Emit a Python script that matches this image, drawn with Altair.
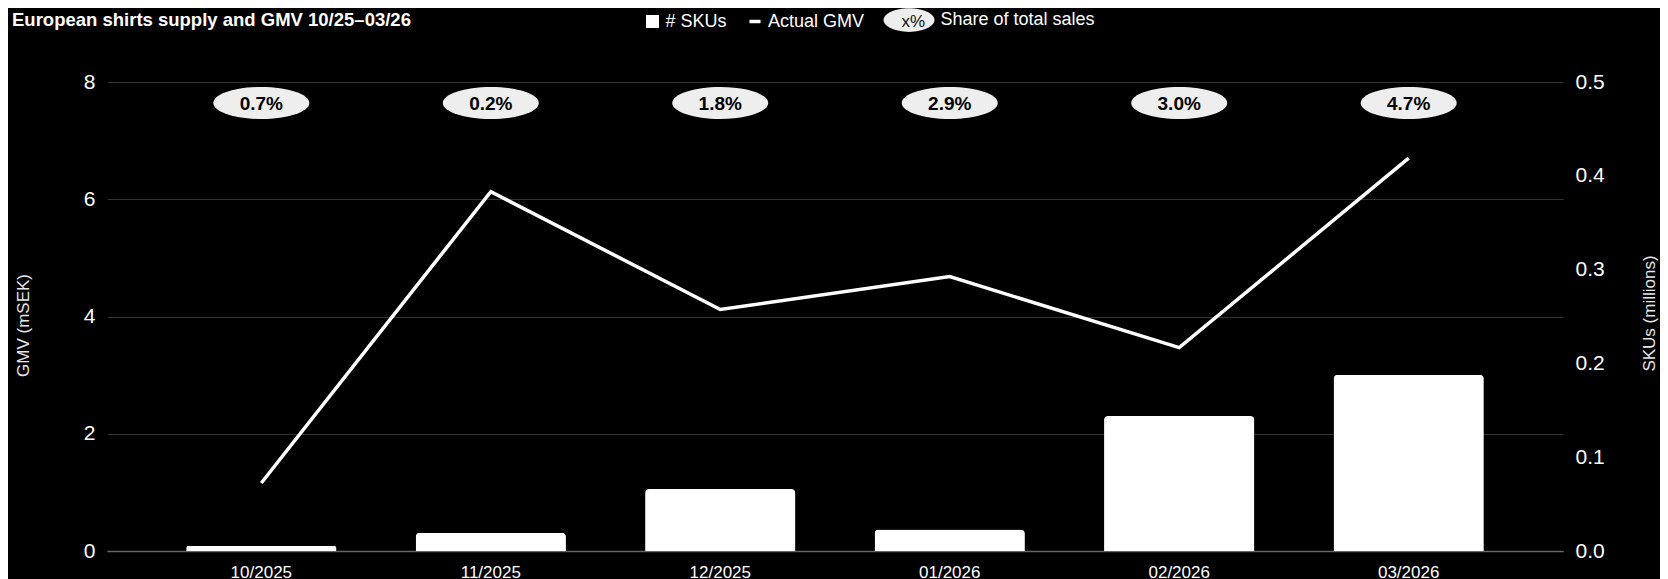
import altair as alt
import pandas as pd

# ---------------- data ----------------
months = ["10/2025", "11/2025", "12/2025", "01/2026", "02/2026", "03/2026"]
skus_millions = [0.0055, 0.0195, 0.066, 0.023, 0.144, 0.188]
gmv_msek = [1.16, 6.13, 4.12, 4.68, 3.47, 6.70]
share_of_sales = [0.007, 0.002, 0.018, 0.029, 0.030, 0.047]

legend_names = ["# SKUs", "Actual GMV", "Share of total sales"]
legend_fills = ["#ffffff", "#ffffff", "#eeeeee"]
legend_glyph = ["x%"]
chart_title = ["European shirts supply and GMV 10/25\u201303/26"]

gmv_ticks = [0, 2, 4, 6, 8]
sku_ticks = [0.0, 0.1, 0.2, 0.3, 0.4, 0.5]

FONT = "Liberation Sans"

df = pd.DataFrame({"month": months, "skus": skus_millions,
                   "gmv": gmv_msek, "share": share_of_sales})


def ellipse_path(cx, rx, ry):
    k = 0.5523
    p = [
        (cx - rx, 0),
        (cx - rx, -k * ry), (cx - k * rx, -ry), (cx, -ry),
        (cx + k * rx, -ry), (cx + rx, -k * ry), (cx + rx, 0),
        (cx + rx, k * ry), (cx + k * rx, ry), (cx, ry),
        (cx - k * rx, ry), (cx - rx, k * ry), (cx - rx, 0),
    ]
    f = lambda q: f"{q[0]:.4f},{q[1]:.4f}"
    s = "M" + f(p[0])
    for i in range(1, 13, 3):
        s += " C" + f(p[i]) + " " + f(p[i + 1]) + " " + f(p[i + 2])
    return s + " Z"


# legend symbol box is 14px wide (unit = 7px)
square_path = "M-0.93,-0.93 L0.93,-0.93 L0.93,0.93 L-0.93,0.93 Z"
dash_path = "M-0.79,-0.25 L0.79,-0.25 L0.79,0.25 L-0.79,0.25 Z"
legend_paths = [square_path, dash_path, ellipse_path(-2.64, 3.64, 1.68)]

x_enc = alt.X(
    "month:N", sort=months,
    scale=alt.Scale(paddingInner=0.345, paddingOuter=0.345),
    axis=alt.Axis(title=None, labelAngle=0, labelFont=FONT, labelFontSize=17,
                  labelColor="#ffffff", labelPadding=13, ticks=False,
                  domainColor="#666666", domainWidth=1.5, grid=False),
)

base = alt.Chart(df)

bars = base.mark_bar(color="#ffffff", cornerRadiusTopLeft=4,
                     cornerRadiusTopRight=4).encode(
    x=x_enc,
    y=alt.Y("skus:Q", scale=alt.Scale(domain=[0, 0.5], nice=False),
            axis=alt.Axis(orient="right", title="SKUs (millions)",
                          values=sku_ticks, format=".1f", grid=False,
                          ticks=False, domain=False, labelFont=FONT,
                          labelFontSize=21, labelColor="#ffffff",
                          labelPadding=12, titleFont=FONT, titleFontSize=17,
                          titleFontWeight="normal", titleColor="#e6e6e6",
                          titleAngle=270, titleAlign="center",
                          titleBaseline="middle", titleX=86, titleY=231)),
)

line = base.mark_line(color="#ffffff", strokeWidth=3.5).encode(
    x=x_enc,
    y=alt.Y("gmv:Q", scale=alt.Scale(domain=[0, 8], nice=False),
            axis=alt.Axis(orient="left", title="GMV (mSEK)", values=gmv_ticks,
                          grid=True, gridColor="#333333", gridWidth=1,
                          ticks=False, domain=False, labelFont=FONT,
                          labelFontSize=21, labelColor="#ffffff",
                          labelPadding=12, titleFont=FONT, titleFontSize=17,
                          titleFontWeight="normal", titleColor="#e6e6e6",
                          titleAngle=270, titleAlign="center",
                          titleBaseline="middle", titleX=-84, titleY=243)),
)

ellipses = base.mark_point(filled=True, opacity=1, strokeWidth=0).encode(
    x=x_enc,
    y=alt.value(21),
    shape=alt.value(ellipse_path(0, 1, 0.333)),
    size=alt.value(9216),
    color=alt.value("#eeeeee"),
)

share_text = base.mark_text(font=FONT, fontSize=19, fontWeight="bold",
                            color="#000000", align="center",
                            baseline="middle", dy=1).encode(
    x=x_enc,
    y=alt.value(21),
    text=alt.Text("share:Q", format=".1%"),
)

title_text = alt.Chart(pd.DataFrame({"t": chart_title})).mark_text(
    font=FONT, fontSize=18.5, fontWeight="bold", color="#ffffff",
    align="left", baseline="alphabetic").encode(
    text="t:N", x=alt.value(-95), y=alt.value(-56))

series_legend = alt.Legend(orient="none", legendX=536.5, legendY=-71,
                           direction="horizontal", title=None,
                           labelFont=FONT, labelFontSize=18,
                           labelColor="#ffffff", labelLimit=400,
                           symbolSize=196, symbolStrokeWidth=0,
                           symbolOpacity=1, columnPadding=18.5,
                           labelOffset=4, padding=0)

legend_layer = alt.Chart(pd.DataFrame({"series": legend_names})).transform_filter(
    "false").mark_point(filled=True).encode(
    color=alt.Color("series:N",
                    scale=alt.Scale(domain=legend_names, range=legend_fills),
                    legend=series_legend),
    shape=alt.Shape("series:N",
                    scale=alt.Scale(domain=legend_names, range=legend_paths),
                    legend=series_legend),
)

glyph_layer = alt.Chart(pd.DataFrame({"g": legend_glyph})).transform_filter(
    "false").mark_line().encode(
    strokeDash=alt.StrokeDash("g:N", scale=alt.Scale(domain=legend_glyph, range=[[1, 0]]),
                              legend=alt.Legend(orient="none", legendX=777.5, legendY=-69,
                                                title=None, labelFont=FONT,
                                                labelFontSize=17, labelColor="#111111",
                                                symbolOpacity=0, symbolSize=4,
                                                symbolStrokeWidth=0, labelOffset=0,
                                                padding=0)),
)

chart = alt.layer(bars, line, ellipses, share_text, title_text,
                  legend_layer, glyph_layer).resolve_scale(
    y="independent"
).properties(
    width=1456, height=469,
    padding={"left": 99, "top": 74, "right": 97, "bottom": 40},
    autosize=alt.AutoSizeParams(type="none"),
    background="#000000",
).configure_view(strokeWidth=0)

chart.save("out.html", embed_options={"renderer": "svg", "actions": False})
